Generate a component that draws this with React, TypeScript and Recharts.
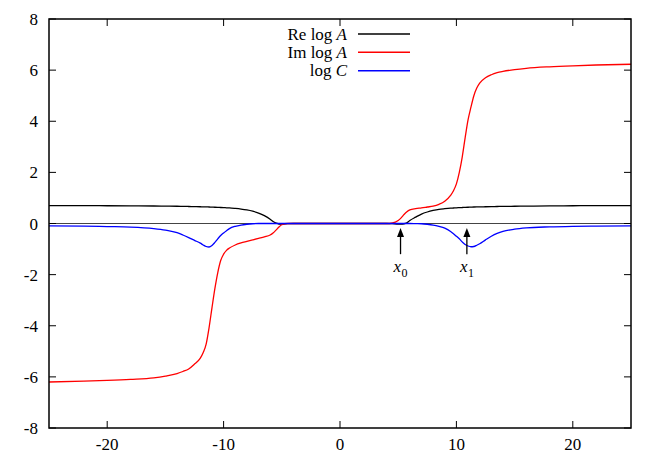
import React from 'react';
import { LineChart, Line, XAxis, YAxis, ReferenceLine, Legend } from 'recharts';

const FONT = '"Liberation Serif", "Times New Roman", Times, serif';

const xGrid = [
  -25, -22, -20, -18, -16, -15, -14, -13.5, -13, -12.5, -12, -11.75, -11.5, -11.25, -11, -10.75, -10.5,
  -10.25, -10, -9.75, -9.5, -9, -8.5, -8, -7.5, -7, -6.5, -6, -5.75, -5.5, -5.25, -5, -4.5, -4,
  0,
  4, 4.5, 5, 5.25, 5.5, 5.75, 6, 6.5, 7, 7.5, 8, 8.5, 9, 9.5, 9.75, 10, 10.25, 10.5, 10.75, 11, 11.25,
  11.5, 11.75, 12, 12.5, 13, 13.5, 14, 15, 16, 18, 20, 22, 25,
];

const reLogA = [
  0.7, 0.7, 0.695, 0.69, 0.685, 0.68, 0.675, 0.67, 0.665, 0.66, 0.655, 0.652, 0.65, 0.645, 0.64, 0.635, 0.63,
  0.625, 0.62, 0.615, 0.61, 0.59, 0.565, 0.53, 0.48, 0.41, 0.31, 0.17, 0.08, 0.02, -0.02, -0.025, -0.005, 0,
  0,
  0, -0.005, -0.02, -0.02, -0.01, 0.03, 0.12, 0.25, 0.37, 0.45, 0.51, 0.555, 0.58, 0.6, 0.607, 0.615, 0.62, 0.625, 0.63, 0.635, 0.64,
  0.645, 0.648, 0.65, 0.655, 0.66, 0.665, 0.67, 0.675, 0.68, 0.69, 0.695, 0.7, 0.7,
];

const imLogA = [
  -6.2, -6.17, -6.14, -6.1, -6.04, -5.97, -5.87, -5.79, -5.69, -5.5, -5.27, -5.05, -4.72, -4.08, -3.3, -2.55, -1.92,
  -1.45, -1.2, -1.05, -0.96, -0.84, -0.76, -0.7, -0.64, -0.58, -0.52, -0.45, -0.37, -0.26, -0.14, -0.05, 0, 0,
  0,
  0, 0.02, 0.12, 0.22, 0.35, 0.46, 0.53, 0.58, 0.61, 0.645, 0.68, 0.75, 0.87, 1.1, 1.28, 1.55, 2.0, 2.6, 3.35, 4.05, 4.55,
  5.0, 5.3, 5.49, 5.7, 5.82, 5.9, 5.95, 6.02, 6.07, 6.13, 6.17, 6.2, 6.23,
];

const logC = [
  -0.09, -0.1, -0.12, -0.14, -0.2, -0.26, -0.36, -0.45, -0.55, -0.66, -0.77, -0.84, -0.9, -0.92, -0.86, -0.74, -0.6,
  -0.47, -0.37, -0.28, -0.2, -0.11, -0.06, -0.03, -0.01, 0, 0, 0, 0, 0, 0, 0, 0, 0,
  0,
  0, 0, 0, 0, 0, 0, 0, -0.005, -0.01, -0.03, -0.06, -0.11, -0.18, -0.31, -0.4, -0.5, -0.6, -0.72, -0.82, -0.88, -0.91,
  -0.9, -0.85, -0.79, -0.64, -0.5, -0.39, -0.31, -0.22, -0.17, -0.13, -0.11, -0.1, -0.09,
];

const xTicks = [-20, -10, 0, 10, 20];
const yTicks = [-8, -6, -4, -2, 0, 2, 4, 6, 8];
const xDomain: [number, number] = [-25, 25];
const yDomain: [number, number] = [-8, 8];

const series = [
  { key: 're', pre: 'Re log ', it: 'A', color: '#000000' },
  { key: 'im', pre: 'Im log ', it: 'A', color: '#ff0000' },
  { key: 'c', pre: 'log ', it: 'C', color: '#0000ff' },
];

const arrowMarks = [
  { x: 5.2, sub: '0' },
  { x: 10.9, sub: '1' },
];
const arrowFrom = -1.2;
const arrowTo = -0.18;

const data = xGrid.map((x, i) => ({ x, re: reLogA[i], im: imLogA[i], c: logC[i] }));

const CHART_W = 664;
const CHART_H = 465;
const MARGIN = { top: 19, right: 33, bottom: 0, left: 0 };
const X_AXIS_H = 37;
const Y_AXIS_W = 49;
const TICK = 7;

const [X0, X1] = xDomain;
const [Y0, Y1] = yDomain;

const renderLegend = () => (
  <svg width={200} height={70} style={{ overflow: 'visible', display: 'block' }}>
    {series.map((s, i) => (
      <g key={s.key}>
        <text x={97} y={19.6 + i * 18.35} textAnchor="end" fontFamily={FONT} fontSize={17} fill="#000">
          {s.pre}
          <tspan fontStyle="italic">{s.it}</tspan>
        </text>
        <line x1={108} x2={160} y1={14 + i * 18.35} y2={14 + i * 18.35} stroke={s.color} strokeWidth={1.5} />
      </g>
    ))}
  </svg>
);

const ArrowShape = (props: any) => {
  const { x1, y1, x2, y2, sub } = props;
  return (
    <g>
      <line x1={x1} y1={y1} x2={x2} y2={y2 + 8} stroke="#000" strokeWidth={1.3} />
      <polygon points={`${x2},${y2} ${x2 - 3.5},${y2 + 9} ${x2 + 3.5},${y2 + 9}`} fill="#000" stroke="none" />
      <text x={x1 - 7} y={y1 + 18} fontFamily={FONT} fontStyle="italic" fontSize={17} fill="#000" stroke="none">
        x
      </text>
      <text x={x1 + 1} y={y1 + 23} fontFamily={FONT} fontSize={12} fill="#000" stroke="none">
        {sub}
      </text>
    </g>
  );
};

// Frame + inward mirrored ticks, from the plot box corners given by the scales
const FrameShape = (props: any) => {
  const { x1, y1, x2, y2, xs, ys } = props;
  const l = Math.min(x1, x2);
  const r = Math.max(x1, x2);
  const t = Math.min(y1, y2);
  const b = Math.max(y1, y2);
  const sx = (v: number) => l + ((v - X0) / (X1 - X0)) * (r - l);
  const sy = (v: number) => b - ((v - Y0) / (Y1 - Y0)) * (b - t);
  return (
    <g>
      {ys.map((v: number) => (
        <g key={'y' + v}>
          <line x1={l} x2={l + TICK} y1={sy(v)} y2={sy(v)} stroke="#000" strokeWidth={1} />
          <line x1={r - TICK} x2={r} y1={sy(v)} y2={sy(v)} stroke="#000" strokeWidth={1} />
        </g>
      ))}
      {xs.map((v: number) => (
        <g key={'x' + v}>
          <line x1={sx(v)} x2={sx(v)} y1={b - TICK} y2={b} stroke="#000" strokeWidth={1} />
          <line x1={sx(v)} x2={sx(v)} y1={t} y2={t + TICK} stroke="#000" strokeWidth={1} />
        </g>
      ))}
      <rect x={l} y={t} width={r - l} height={b - t} fill="none" stroke="#000" strokeWidth={1.5} />
    </g>
  );
};

export default function App() {
  return (
    <div
      style={{
        position: 'absolute',
        left: 0,
        top: 0,
        width: CHART_W,
        height: CHART_H,
        background: '#fff',
        fontFamily: FONT,
      }}
    >
      <LineChart width={CHART_W} height={CHART_H} data={data} margin={MARGIN}>
        <XAxis
          xAxisId="b"
          dataKey="x"
          type="number"
          domain={xDomain}
          ticks={xTicks}
          interval={0}
          tickSize={0}
          tickMargin={10}
          height={X_AXIS_H}
          axisLine={false}
          tickLine={false}
          tick={{ fill: '#000', fontSize: 17, fontFamily: FONT }}
        />
        <YAxis
          yAxisId="l"
          type="number"
          domain={yDomain}
          ticks={yTicks}
          interval={0}
          tickSize={0}
          tickMargin={11}
          width={Y_AXIS_W}
          axisLine={false}
          tickLine={false}
          tick={{ fill: '#000', fontSize: 17, fontFamily: FONT }}
        />
        <ReferenceLine xAxisId="b" yAxisId="l" y={0} stroke="#444" strokeWidth={1} />
        {series.map((s) => (
          <Line
            key={s.key}
            xAxisId="b"
            yAxisId="l"
            dataKey={s.key}
            name={s.pre + s.it}
            type="monotone"
            stroke={s.color}
            strokeWidth={1.3}
            dot={false}
            activeDot={false}
            isAnimationActive={false}
          />
        ))}
        {arrowMarks.map((m) => (
          <ReferenceLine
            key={m.sub}
            xAxisId="b"
            yAxisId="l"
            segment={[
              { x: m.x, y: arrowFrom },
              { x: m.x, y: arrowTo },
            ]}
            shape={(p: any) => <ArrowShape {...p} sub={m.sub} />}
          />
        ))}
        <ReferenceLine
          xAxisId="b"
          yAxisId="l"
          ifOverflow="visible"
          segment={[
            { x: X0, y: Y0 },
            { x: X1, y: Y1 },
          ]}
          shape={(p: any) => <FrameShape {...p} xs={xTicks} ys={yTicks} />}
        />
        <Legend
          content={renderLegend}
          verticalAlign="middle"
          layout="horizontal"
          wrapperStyle={{ position: 'absolute', left: 250, top: 20, width: 200, height: 70 }}
        />
      </LineChart>
    </div>
  );
}
